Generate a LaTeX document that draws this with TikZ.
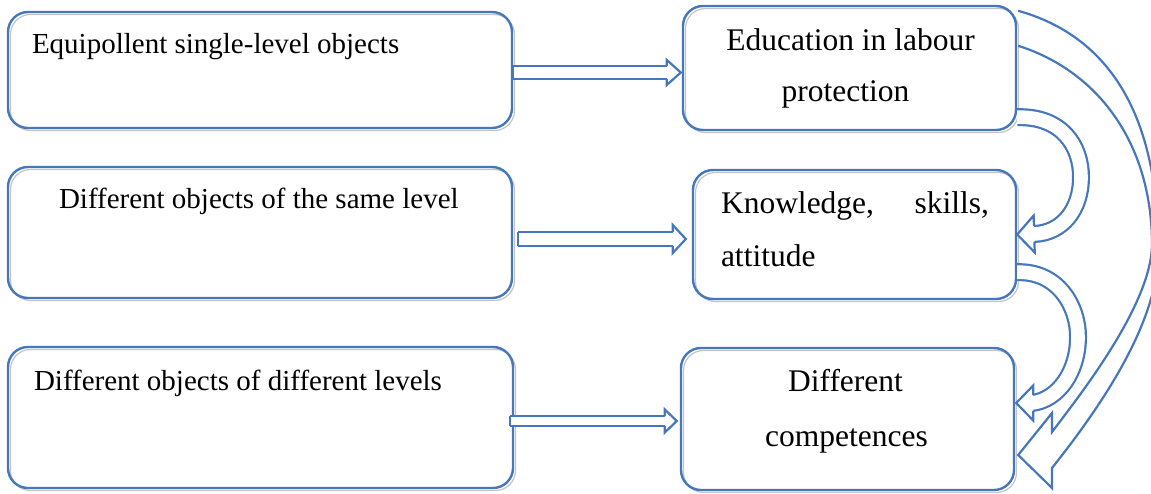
\documentclass[tikz,border=0pt]{standalone}
\usepackage{fontspec}
\setmainfont{Liberation Serif}
\usetikzlibrary{calc}
\usetikzlibrary{positioning}
\usetikzlibrary{shadows}
\usetikzlibrary{decorations.markings}
\definecolor{BoxBlue}{HTML}{4677BD}
\definecolor{ShadowGray}{HTML}{C4C4C4}
\tikzset{
  box/.style={draw=BoxBlue, line width=2.4pt, rounded corners=20pt, inner sep=0pt,
    drop shadow={shadow xshift=2.5pt, shadow yshift=-2.5pt, fill=none,
      draw=ShadowGray, line width=1.2pt, opacity=1}},
  lefttext/.style={font=\fontsize{29}{35}\selectfont, inner sep=0pt},
  righttext/.style={font=\fontsize{31.5}{38}\selectfont, inner sep=0pt},
  edge/.style={draw=BoxBlue, line width=2.2pt, line join=miter},
  % #1 shaft gap, #2 head half width, #3 head length
  hollow/.style n args={3}{draw=BoxBlue, line width=2.2pt, line join=round,
    double=white, double distance=#1pt, shorten >=#3pt-2pt,
    postaction={decorate, decoration={markings, mark=at position 1 with {
      \fill[white, shorten >=0pt] (0,0) -- (-#3,#2) -- (-#3,-#2) -- cycle;
      \draw[BoxBlue, line width=2.2pt, line join=miter, shorten >=0pt]
        (-#3,{#1/2+1.1}) -- (-#3,#2) -- (0,0) -- (-#3,-#2) -- (-#3,{-#1/2-1.1});
    }}}},
  tail/.style={postaction={decorate, decoration={markings, mark=at position 0 with {
      \draw[BoxBlue, line width=2.2pt, shorten >=0pt] (0,{#1/2+1.1}) -- (0,{-#1/2-1.1});
    }}}},
}

\begin{document}
\begin{tikzpicture}[x=1pt, y=-1pt]
  \useasboundingbox (0,0) rectangle (1151,493);
  \clip (0,0) rectangle (1151,493);

  % left column
  \node[box, minimum width=504pt, minimum height=116pt] (L1) at (260,70) {};
  \node[box, minimum width=504pt, minimum height=131pt] (L2) at (260,232.5) {};
  \node[box, minimum width=505pt, minimum height=141pt] (L3) at (260.5,417.5) {};

  % right column
  \node[box, minimum width=333pt, minimum height=124pt] (R1) at (849.5,68) {};
  \node[box, minimum width=323pt, minimum height=129pt] (R2) at (854.5,234.5) {};
  \node[box, minimum width=333pt, minimum height=142pt] (R3) at (847.5,419) {};

  % texts
  \node[lefttext, anchor=base west] (t1) at ($(L1.north west)+(25,43)$) {Equipollent single-level objects};
  \node[lefttext, anchor=base west] (t2) at ($(L2.north west)+(52,43)$) {Different objects of the same level};
  \node[lefttext, anchor=base west] (t3) at ($(L3.north west)+(27,45)$) {Different objects of different levels};

  \node[righttext, anchor=base] (r1a) at ($(R1.north)+(1,46)$) {Education in labour};
  \node[righttext, anchor=base] (r1b) at ($(R1.north)+(-4,97)$) {protection};
  \node[righttext, anchor=base west] (r2a) at ($(R2.north west)+(29,45)$) {\makebox[268pt][s]{Knowledge, skills,}};
  \node[righttext, anchor=base west] (r2b) at ($(R2.north west)+(29,98)$) {attitude};
  \node[righttext, anchor=base] (r3a) at ($(R3.north)+(-2,45)$) {Different};
  \node[righttext, anchor=base] (r3b) at ($(R3.north)+(-1,100)$) {competences};

  % straight arrows
  \coordinate (a1) at ($(L1.east)+(0,2.5)$);
  \coordinate (a2) at ($(L2.east)+(5,6.5)$);
  \coordinate (a3) at ($(L3.east)+(-4,3.5)$);
  \draw[hollow={10.6}{12.5}{14}, tail=10.6] (a1) -- ($(a1 -| R1.west)+(-1,0)$);
  \draw[hollow={11.6}{14}{13}, tail=11.6] (a2) -- ($(a2 -| R2.west)+(-6,0)$);
  \draw[hollow={7.6}{11.5}{12}, tail=7.6] (a3) -- ($(a3 -| R3.west)+(-3,0)$);

  % curved arrows
  \coordinate (ca) at ($(R1.south east)+(0,-14)$);
  \coordinate (cb) at ($(R2.south east)+(0,-28)$);
  \draw[hollow={13.6}{18.5}{17}] (ca) .. controls (1062,116) and (1081,146) .. (1081,177)
    .. controls (1081,210) and (1062,233) .. (1034,234) -- (R2.east);
  \draw[hollow={13.6}{17.5}{17}] (cb) .. controls (1058,271) and (1078,306) .. (1078,337)
    .. controls (1078,372) and (1058,400) .. (1032,403) -- ($(R3.east)+(1,-16)$);

  % long curved arrow, outer edge, head, inner edge
  \coordinate (cc1) at ($(R1.north east)+(1,6)$);
  \coordinate (cc2) at ($(R1.north east)+(1,41)$);
  \coordinate (cc3) at ($(R3.east)+(3,36)$);
  \draw[edge] (cc1) .. controls (1105,35) and (1160,110) .. (1158,255)
    .. controls (1157,330) and (1090,420) .. (1052,468) -- (1052,488) -- (cc3)
    -- (1052,413) -- (1052,432) .. controls (1080,395) and (1151,305) .. (1152,245)
    .. controls (1152,140) and (1095,70) .. (cc2);
\end{tikzpicture}
\end{document}
